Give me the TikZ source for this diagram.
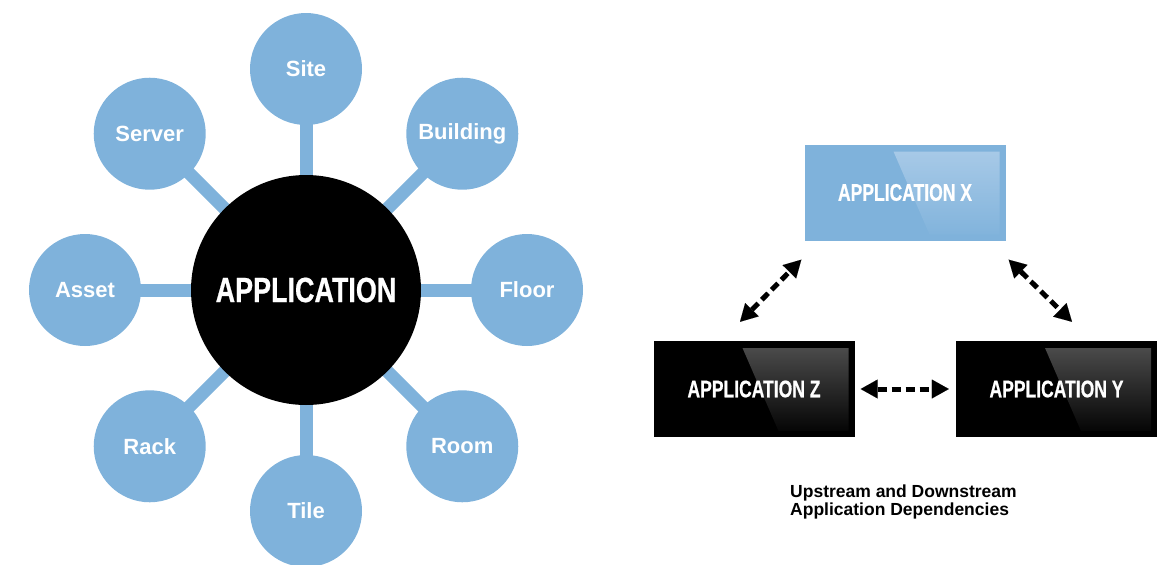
\documentclass[tikz,border=0pt]{standalone}
\usepackage{fontspec}
\setmainfont{Liberation Sans}
\newfontfamily\hubfont[FakeStretch=0.77,FakeBold=0.6]{Liberation Sans}
\newfontfamily\boxfont[FakeStretch=0.73,FakeBold=0.6]{Liberation Sans}
\usetikzlibrary{arrows.meta,backgrounds}
\definecolor{appblue}{RGB}{127,178,219}
\definecolor{appglow}{RGB}{170,203,232}
\definecolor{darkglow}{RGB}{80,80,80}
\tikzset{
	satnode/.style={circle,fill=appblue,minimum size=112pt,inner sep=0pt,text=white,
		font=\fontsize{22}{22}\selectfont\bfseries},
	satlink/.style={appblue,line width=13pt},
	appbox/.style={rectangle,minimum width=201pt,minimum height=96pt,inner sep=0pt,text=white,
		font=\boxfont\fontsize{24}{24}\selectfont\bfseries},
	glowbox/.style 2 args={appbox,fill=#1,path picture={
		\shade[top color=#2,bottom color=#1]
		([shift={(89pt,-7pt)}]path picture bounding box.north west) --
		([shift={(-6pt,-7pt)}]path picture bounding box.north east) --
		([shift={(-6pt,6pt)}]path picture bounding box.south east) --
		([shift={(125pt,6pt)}]path picture bounding box.south west) -- cycle;}},
	deparrow/.style={line width=5pt,dash pattern=on 9pt off 5pt,
		{Triangle[length=17pt,width=19pt,line width=0.01pt]}-{Triangle[length=17pt,width=19pt,line width=0.01pt]}}
}
\begin{document}
\begin{tikzpicture}[x=1pt,y=-1pt]
	\useasboundingbox (0,0) rectangle (1157,565);
	
	\node[circle,fill=black,minimum size=230pt,inner sep=0pt,text=white,
		font=\hubfont\fontsize{35}{35}\selectfont\bfseries] (app) at (306,290) {APPLICATION};
	
	\foreach \name/\label/\ang in {site/Site/90,building/Building/45,floor/Floor/0,room/Room/-45,
		tile/Tile/-90,rack/Rack/-135,asset/Asset/180,server/Server/135}
	\node[satnode] (\name) at ([shift={(\ang:221pt)}]app.center) {\label};
	
	\begin{scope}[on background layer]
		\foreach \name in {site,building,floor,room,tile,rack,asset,server}
		\draw[satlink] (app.center) -- (\name.center);
	\end{scope}
	
	\node[glowbox={appblue}{appglow}] (appx) at (905,192.5) {APPLICATION X};
	\node[glowbox={black}{darkglow}] (appz) at (754,389) {APPLICATION Z};
	\node[glowbox={black}{darkglow}] (appy) at (1056.5,389) {APPLICATION Y};
	
	\draw[deparrow] ([shift={(-14,-19)}]appz.north) -- ([shift={(-3,19)}]appx.south west);
	\draw[deparrow] ([shift={(3,19)}]appx.south east) -- ([shift={(15.5,-19)}]appy.north);
	\draw[deparrow,shorten <=6pt,shorten >=7pt] (appz.east) -- (appy.west);
	
	\node[anchor=north west,align=left,inner sep=0pt,font=\fontsize{17.5}{18}\selectfont\bfseries]
		(caption) at (790,485) {Upstream and Downstream\\Application Dependencies};
	
\end{tikzpicture}
\end{document}
